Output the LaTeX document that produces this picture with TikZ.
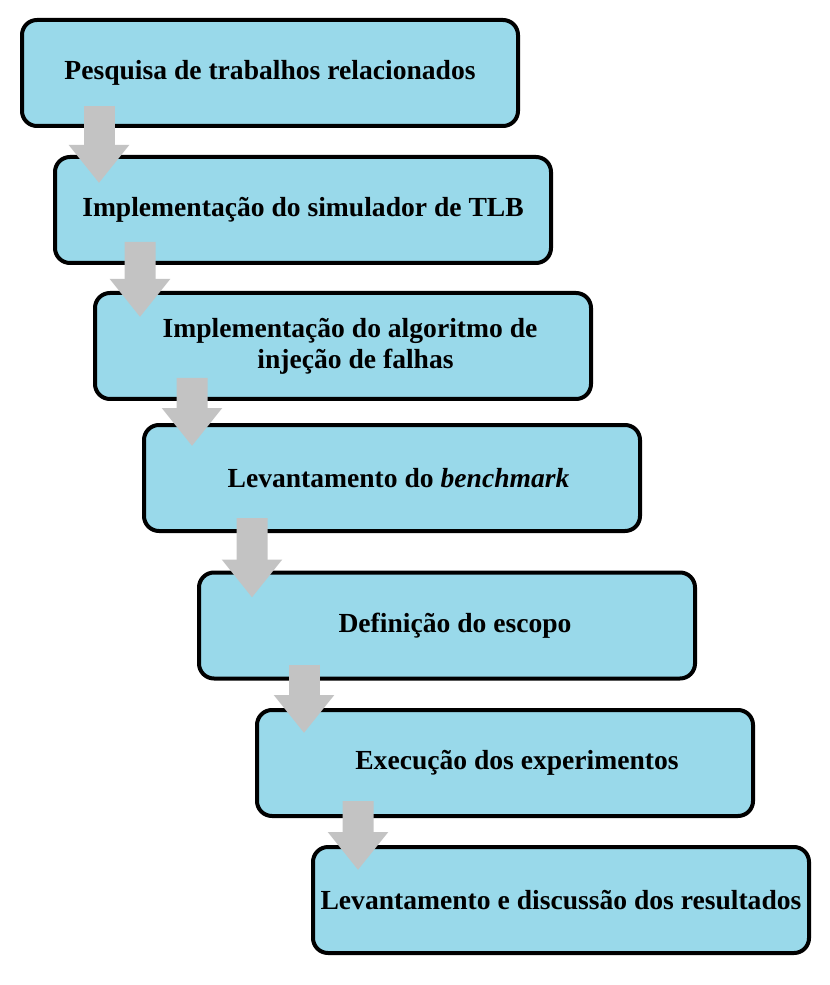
\documentclass[tikz,border=0pt]{standalone}
\usepackage{fontspec}
\setmainfont{Liberation Serif}
\usetikzlibrary{arrows.meta}
\definecolor{boxblue}{RGB}{153,217,234}
\definecolor{arrowgray}{RGB}{195,195,195}

\begin{document}
\begin{tikzpicture}[
    stepbox/.style={draw=black, line width=0.08cm, fill=boxblue, rounded corners=0.3cm,
        minimum width=9.92cm, minimum height=2.12cm, align=center,
        font=\fontsize{15.7}{17.8}\selectfont\bfseries},
    flow/.style={arrowgray, line width=0.62cm,
        -{Triangle[length=0.76cm, width=1.16cm]}}
]
    \useasboundingbox (0,0) rectangle (16.58,-19.7);
    \node[stepbox] (b1) at (5.4,-1.46) {Pesquisa de trabalhos relacionados};
    \node[stepbox] (b2) at (6.06,-4.2) {Implementação do simulador de TLB};
    \node[stepbox] (b3) at (6.86,-6.92) {\hspace*{0.28cm}Implementação do algoritmo de\\ \hspace*{0.5cm}injeção de falhas};
    \node[stepbox] (b4) at (7.84,-9.56) {\hspace*{0.26cm}Levantamento do \textit{benchmark}};
    \node[stepbox] (b5) at (8.94,-12.51) {\hspace*{0.32cm}Definição do escopo};
    \node[stepbox] (b6) at (10.1,-15.26) {\hspace*{0.48cm}Execução dos experimentos};
    \node[stepbox] (b7) at (11.22,-18.0) {Levantamento e discussão dos resultados};
    \draw[flow] ([xshift=1.58cm,yshift=0.44cm]b1.south west) -- ([xshift=0.92cm,yshift=-0.56cm]b2.north west);
    \draw[flow] ([xshift=1.74cm,yshift=0.46cm]b2.south west) -- ([xshift=0.94cm,yshift=-0.52cm]b3.north west);
    \draw[flow] ([xshift=1.98cm,yshift=0.46cm]b3.south west) -- ([xshift=1.0cm,yshift=-0.46cm]b4.north west);
    \draw[flow] ([xshift=2.2cm,yshift=0.30cm]b4.south west) -- ([xshift=1.1cm,yshift=-0.54cm]b5.north west);
    \draw[flow] ([xshift=2.14cm,yshift=0.32cm]b5.south west) -- ([xshift=0.98cm,yshift=-0.5cm]b6.north west);
    \draw[flow] ([xshift=2.06cm,yshift=0.34cm]b6.south west) -- ([xshift=0.94cm,yshift=-0.5cm]b7.north west);
\end{tikzpicture}
\end{document}
